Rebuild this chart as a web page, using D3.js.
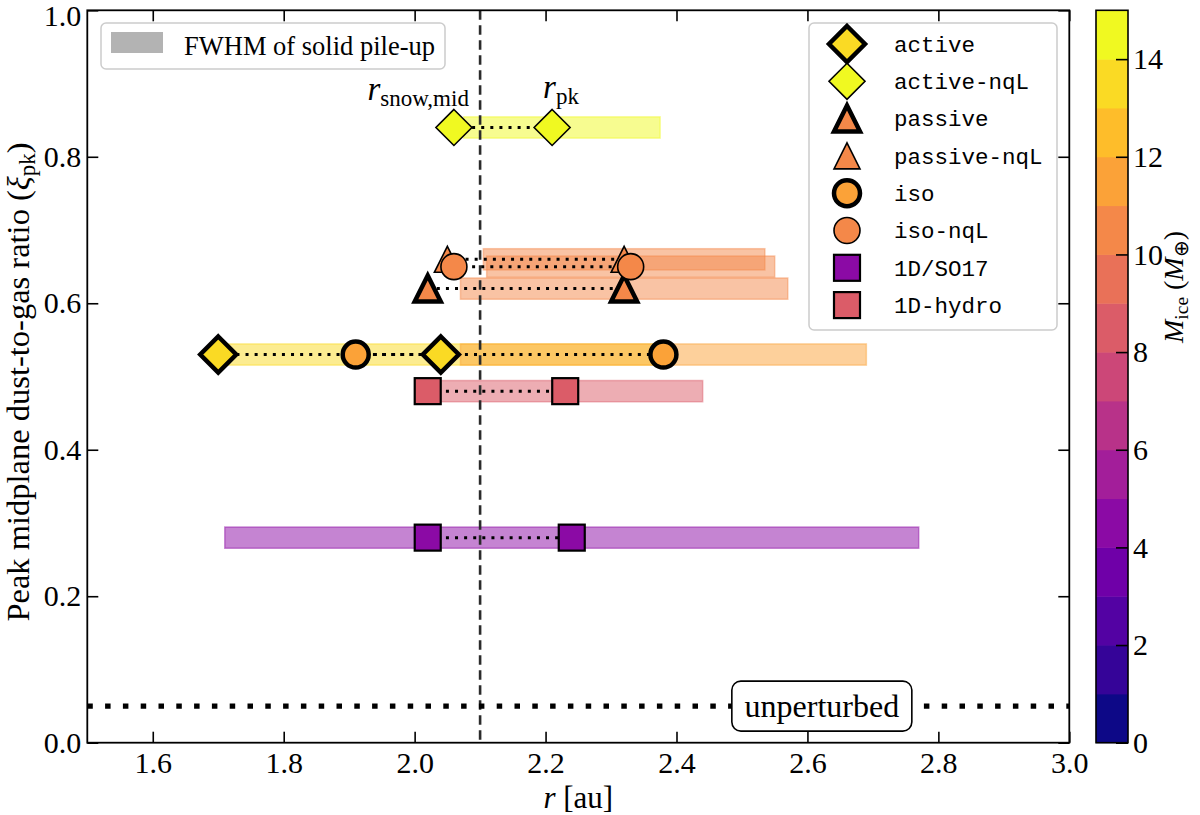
<!DOCTYPE html>
<html>
<head>
<meta charset="utf-8">
<script src="https://cdn.jsdelivr.net/npm/d3@7/dist/d3.min.js"></script>
<style>
  html, body { margin: 0; padding: 0; background: #fff; }
  svg { display: block; }
</style>
</head>
<body>
<svg id="chart" width="1200" height="815"></svg>
<script>
// ---------------- data ----------------
const models   = ["active", "active-nqL", "passive", "passive-nqL", "iso", "iso-nqL", "1D/SO17", "1D-hydro"];
const shapes   = ["diamond", "diamond", "triangle", "triangle", "circle", "circle", "square", "square"];
const bold     = [true, false, true, false, true, false, false, false];
const xiPk     = [0.53, 0.84, 0.62, 0.66, 0.53, 0.65, 0.28, 0.48];
const rSnow    = [1.70, 2.06, 2.02, 2.05, 1.91, 2.06, 2.02, 2.02];
const rPk      = [2.04, 2.21, 2.32, 2.32, 2.38, 2.33, 2.24, 2.23];
const fwhmLo   = [1.70, 2.075, 2.07, 2.105, 2.07, 2.11, 1.71, 2.03];
const fwhmHi   = [2.37, 2.375, 2.57, 2.535, 2.69, 2.55, 2.77, 2.44];
const mIce     = [13.5, 14.5, 10.3, 10.4, 11.4, 10.5, 4.5, 8.5];
const xTicks   = [1.6, 1.8, 2.0, 2.2, 2.4, 2.6, 2.8, 3.0];
const yTicks   = [0.0, 0.2, 0.4, 0.6, 0.8, 1.0];
const cbTicks  = [0, 2, 4, 6, 8, 10, 12, 14];
const rSnowLine = 2.1;
const xiUnpert  = 0.05;
const unpertLabelR = 2.622;
const bandHalf  = 0.0145;

// ---------------- layout ----------------
const svg = d3.select("#chart");
const L = 87.3, R = 1069.3, T = 10.3, B = 742.7;
const x = d3.scaleLinear().domain([1.5, 3.0]).range([L, R]);
const y = d3.scaleLinear().domain([0, 1]).range([B, T]);
const serif = "'Liberation Serif', 'Times New Roman', serif";
const mono = "'Liberation Mono', 'DejaVu Sans Mono', monospace";
const nBins = 15;
const binColor = i => d3.interpolatePlasma(i / (nBins - 1));
const colorOf = m => binColor(Math.min(nBins - 1, Math.floor(m)));

// ---------------- FWHM bands ----------------
const gBands = svg.append("g");
models.forEach((m, i) => {
  const c = colorOf(mIce[i]);
  gBands.append("rect")
    .attr("x", x(fwhmLo[i])).attr("width", x(fwhmHi[i]) - x(fwhmLo[i]))
    .attr("y", y(xiPk[i] + bandHalf)).attr("height", y(xiPk[i] - bandHalf) - y(xiPk[i] + bandHalf))
    .attr("fill", c).attr("fill-opacity", 0.5)
    .attr("stroke", c).attr("stroke-opacity", 0.45).attr("stroke-width", 1.5);
});

// snow line
svg.append("line")
  .attr("x1", x(rSnowLine)).attr("x2", x(rSnowLine)).attr("y1", y(1)).attr("y2", y(0))
  .attr("stroke", "#2b2b2b").attr("stroke-width", 2.6).attr("stroke-dasharray", "9.5,5.5");

// unperturbed line
svg.append("line")
  .attr("x1", x(1.5)).attr("x2", x(3.0)).attr("y1", y(xiUnpert)).attr("y2", y(xiUnpert))
  .attr("stroke", "#000").attr("stroke-width", 5.2).attr("stroke-dasharray", "5.5,12.3");

// connectors
models.forEach((m, i) => {
  svg.append("line")
    .attr("x1", x(rSnow[i])).attr("x2", x(rPk[i])).attr("y1", y(xiPk[i])).attr("y2", y(xiPk[i]))
    .attr("stroke", "#000").attr("stroke-width", 3).attr("stroke-dasharray", "3,6.1");
});

// markers
function drawMarker(g, shape, cx, cy, fill, isBold) {
  const sw = isBold ? 4.5 : 1.6;
  let el;
  if (shape === "diamond") {
    const h = 18;
    el = g.append("path").attr("d", `M${cx},${cy - h}L${cx + h},${cy}L${cx},${cy + h}L${cx - h},${cy}Z`);
  } else if (shape === "triangle") {
    const h = 13;
    el = g.append("path").attr("d", `M${cx},${cy - h}L${cx + h},${cy + h}L${cx - h},${cy + h}Z`);
  } else if (shape === "circle") {
    el = g.append("circle").attr("cx", cx).attr("cy", cy).attr("r", 13);
  } else {
    el = g.append("rect").attr("x", cx - 13).attr("y", cy - 13).attr("width", 26).attr("height", 26);
  }
  el.attr("fill", fill).attr("stroke", "#000").attr("stroke-width", shape === "square" ? 2.2 : sw)
    .attr("stroke-linejoin", "miter").attr("stroke-miterlimit", 10);
}
const gMarks = svg.append("g");
models.forEach((m, i) => {
  const c = colorOf(mIce[i]);
  drawMarker(gMarks, shapes[i], x(rSnow[i]), y(xiPk[i]), c, bold[i]);
  drawMarker(gMarks, shapes[i], x(rPk[i]), y(xiPk[i]), c, bold[i]);
});

// ---------------- axes ----------------
const gx = svg.append("g").attr("transform", `translate(0,${B})`)
  .call(d3.axisBottom(x).tickValues(xTicks).tickFormat(d3.format(".1f")).tickSize(-11).tickPadding(9));
const gy = svg.append("g").attr("transform", `translate(${L},0)`)
  .call(d3.axisLeft(y).tickValues(yTicks).tickFormat(d3.format(".1f")).tickSize(-11).tickPadding(6));
const gxt = svg.append("g").attr("transform", `translate(0,${T})`)
  .call(d3.axisTop(x).tickValues(xTicks).tickFormat("").tickSize(-11));
const gyr = svg.append("g").attr("transform", `translate(${R},0)`)
  .call(d3.axisRight(y).tickValues(yTicks).tickFormat("").tickSize(-11));
[gx, gy, gxt, gyr].forEach(g => {
  g.select(".domain").remove();
  g.attr("font-family", null).attr("font-size", null);
  g.selectAll(".tick line").attr("stroke", "#000").attr("stroke-width", 1.6);
  g.selectAll("text").style("font-family", serif).style("font-size", "30px").attr("fill", "#000");
});
// keep the top label inside the picture
gy.selectAll(".tick").filter(d => d === 1.0).select("text").attr("dy", "0.5em");
svg.append("rect").attr("x", L).attr("y", T).attr("width", R - L).attr("height", B - T)
  .attr("fill", "none").attr("stroke", "#000").attr("stroke-width", 1.8);

// axis labels
const xl = svg.append("text").attr("x", (L + R) / 2).attr("y", 808).attr("text-anchor", "middle")
  .style("font-family", serif).style("font-size", "31px");
xl.append("tspan").attr("font-style", "italic").text("r");
xl.append("tspan").text(" [au]");

const yl = svg.append("text").attr("transform", `translate(29,382) rotate(-90)`)
  .attr("text-anchor", "middle").style("font-family", serif).style("font-size", "32.5px");
yl.append("tspan").text("Peak midplane dust-to-gas ratio (");
yl.append("tspan").attr("font-style", "italic").text("ξ");
yl.append("tspan").style("font-size", "23px").attr("dy", 6).text("pk");
yl.append("tspan").attr("dy", -6).text(")");

// annotations
const aSnow = svg.append("text").attr("x", x(rSnow[1]) + 15).attr("y", 100).attr("text-anchor", "end")
  .style("font-family", serif).style("font-size", "33px");
aSnow.append("tspan").attr("font-style", "italic").text("r");
aSnow.append("tspan").style("font-size", "23px").attr("dy", 6).text("snow,mid");
const aPk = svg.append("text").attr("x", x(rPk[1]) - 9).attr("y", 98).attr("text-anchor", "start")
  .style("font-family", serif).style("font-size", "33px");
aPk.append("tspan").attr("font-style", "italic").text("r");
aPk.append("tspan").style("font-size", "23px").attr("dy", 6).text("pk");

// unperturbed box
const ux = x(unpertLabelR), uy = y(xiUnpert);
svg.append("rect").attr("x", ux - 90).attr("y", uy - 25).attr("width", 180).attr("height", 50)
  .attr("rx", 9).attr("fill", "#fff").attr("stroke", "#000").attr("stroke-width", 1.6);
svg.append("text").attr("x", ux).attr("y", uy).attr("dy", "0.33em").attr("text-anchor", "middle")
  .style("font-family", serif).style("font-size", "32px").text("unperturbed");

// ---------------- legends ----------------
svg.append("rect").attr("x", 101).attr("y", 23).attr("width", 344).attr("height", 46).attr("rx", 5)
  .attr("fill", "#fff").attr("fill-opacity", 0.8).attr("stroke", "#cccccc").attr("stroke-width", 1.5);
svg.append("rect").attr("x", 111).attr("y", 32).attr("width", 52).attr("height", 21).attr("fill", "#b3b3b3");
svg.append("text").attr("x", 184).attr("y", 46).attr("dy", "0.33em").style("font-family", serif)
  .style("font-size", "26.5px").text("FWHM of solid pile-up");

const lg = svg.append("g");
lg.append("rect").attr("x", 809).attr("y", 23).attr("width", 248).attr("height", 307).attr("rx", 5)
  .attr("fill", "#fff").attr("fill-opacity", 0.8).attr("stroke", "#cccccc").attr("stroke-width", 1.5);
models.forEach((m, i) => {
  const cy = 44 + i * 37.3;
  drawMarker(lg, shapes[i], 847, cy, colorOf(mIce[i]), bold[i]);
  lg.append("text").attr("x", 894).attr("y", cy).attr("dy", "0.35em").style("font-family", mono)
    .style("font-size", "22.5px").text(m);
});

// ---------------- colorbar ----------------
const cbL = 1096, cbR = 1128;
const cb = d3.scaleLinear().domain([0, nBins]).range([B, T]);
const gcb = svg.append("g");
d3.range(nBins).forEach(i => {
  gcb.append("rect").attr("x", cbL).attr("width", cbR - cbL)
    .attr("y", cb(i + 1)).attr("height", cb(i) - cb(i + 1) + 0.5).attr("fill", binColor(i));
});
gcb.append("rect").attr("x", cbL).attr("y", T).attr("width", cbR - cbL).attr("height", B - T)
  .attr("fill", "none").attr("stroke", "#000").attr("stroke-width", 1.6);
const gcbAx = svg.append("g").attr("transform", `translate(${cbR},0)`)
  .call(d3.axisRight(cb).tickValues(cbTicks).tickSize(-12).tickPadding(5));
gcbAx.select(".domain").remove();
gcbAx.attr("font-family", null).attr("font-size", null);
gcbAx.selectAll(".tick line").attr("stroke", "#000").attr("stroke-width", 1.6);
gcbAx.selectAll("text").style("font-family", serif).style("font-size", "30px").attr("fill", "#000");

const cl = svg.append("text").attr("transform", `translate(1183,287) rotate(-90)`)
  .attr("text-anchor", "middle").style("font-family", serif).style("font-size", "28px");
cl.append("tspan").attr("font-style", "italic").text("M");
cl.append("tspan").style("font-size", "19.5px").attr("dy", 5).text("ice");
cl.append("tspan").attr("dy", -5).text(" (");
cl.append("tspan").attr("font-style", "italic").text("M");
cl.append("tspan").style("font-size", "19.5px").attr("dy", 5).text("⊕");
cl.append("tspan").attr("dy", -5).text(")");
</script>
</body>
</html>
